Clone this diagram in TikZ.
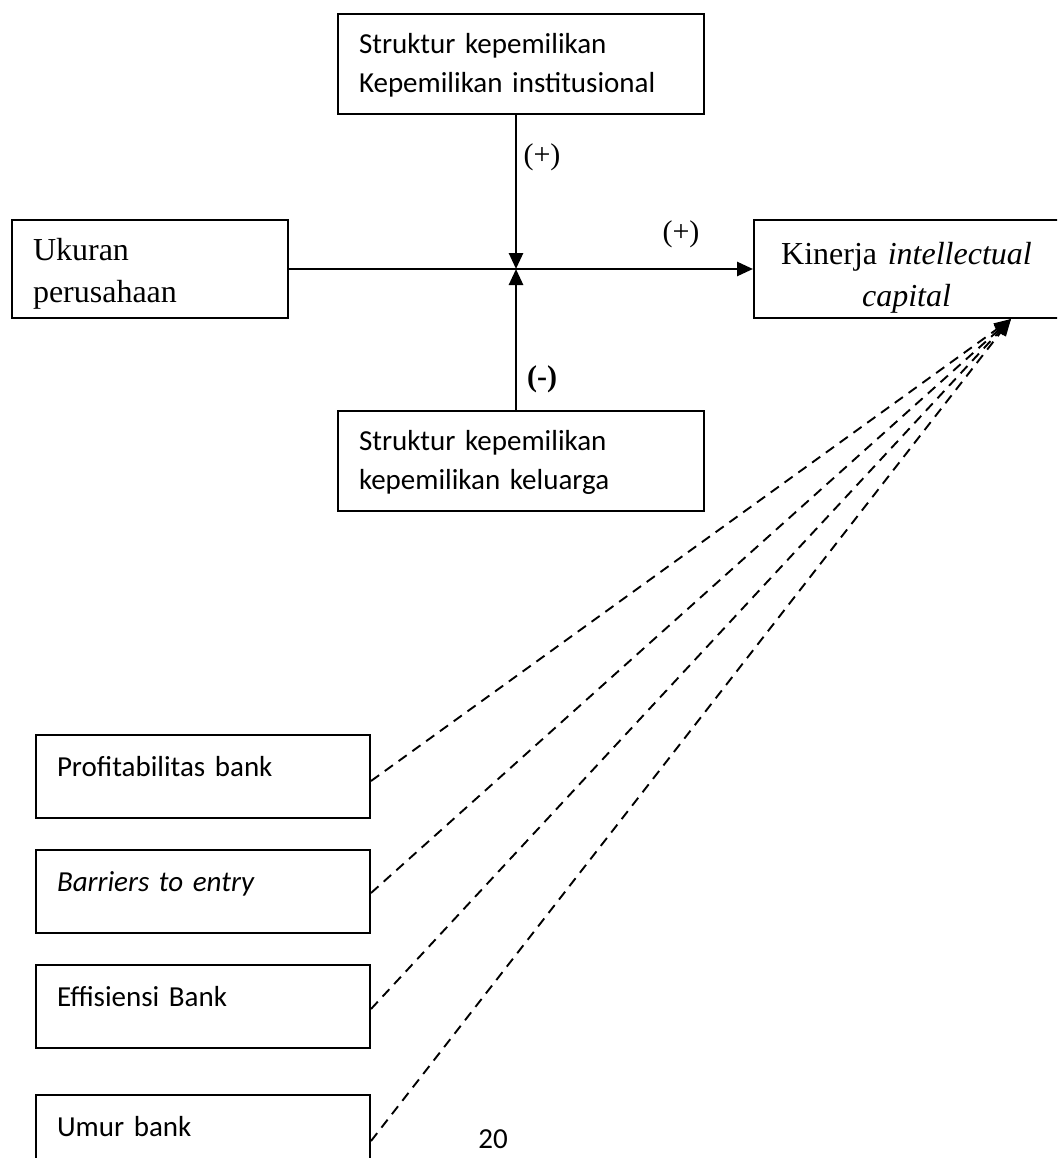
\documentclass[tikz,border=0pt]{standalone}
\usepackage{fontspec}
\setmainfont{Liberation Serif}
\newfontfamily\calfont{Carlito}
\usetikzlibrary{arrows.meta,calc}
\begin{document}
\begin{tikzpicture}[x=1pt,y=-1pt,
  cbox/.style={draw, line width=2pt, inner xsep=21pt, inner ysep=0pt, anchor=north west, align=left,
    font=\calfont\fontsize{29}{39}\selectfont},
  tbox/.style={draw, line width=2pt, inner xsep=21pt, inner ysep=0pt, anchor=north west,
    font=\fontsize{32}{41}\selectfont},
  lab/.style={font=\fontsize{30}{36}\selectfont, inner sep=0pt},
  solidarrow/.style={line width=2.6pt, -{Triangle[length=16pt,width=14pt]}},
  dasharrow/.style={line width=1.9pt, dash pattern=on 10pt off 7pt, -{Triangle[length=17pt,width=13pt]}}
]
\useasboundingbox (0,0) rectangle (1057,1158);
\clip (0,0) rectangle (1057,1158);

% main boxes
\node[cbox, text width=324pt, text height=39.5pt, text depth=60.5pt] (inst) at (337,13)
  {Struktur kepemilikan\\Kepemilikan institusional};
\node[cbox, text width=324pt, text height=39.5pt, text depth=60.5pt] (fam) at (337,410)
  {Struktur kepemilikan\\kepemilikan keluarga};
\node[tbox, align=left, text width=234pt, text height=41pt, text depth=57pt] (u) at (11,219)
  {Ukuran\\perusahaan};
\node[tbox, align=center, text width=263pt, text height=44pt, text depth=54pt,
  font=\fontsize{32}{43}\selectfont] (k) at (753,219)
  {Kinerja \textit{intellectual}\\\textit{capital}};

% control boxes
\node[cbox, text width=292pt, text height=41pt, text depth=42pt] (p1) at (35,734) {Profitabilitas bank};
\node[cbox, text width=292pt, text height=41pt, text depth=42pt] (p2) at (35,849) {\textit{Barriers to entry}};
\node[cbox, text width=292pt, text height=41pt, text depth=42pt] (p3) at (35,964) {Effisiensi Bank};
\node[cbox, text width=292pt, text height=41pt, text depth=42pt] (p4) at (35,1094) {Umur bank};

% junction and arrows
\coordinate (vt) at ([xshift=-5pt]inst.south);
\coordinate (vb) at ([xshift=-5pt]fam.north);
\coordinate (j) at (vt |- u.east);
\draw[solidarrow] (vt) -- (j);
\draw[solidarrow] (vb) -- (j);
\draw[solidarrow] (u.east) -- (k.west);

% labels
\node[lab] (l1) at (542,157) {(+)};
\node[lab] (l2) at (681,234) {(+)};
\node[lab, font=\bfseries\fontsize{30}{36}\selectfont] (l3) at (542,379) {(-)};

% dashed arrows
\coordinate (tip) at ($(k.south)+(104.5,0)$);
\draw[dasharrow] ([yshift=-4.5pt]p1.east) -- (tip);
\draw[dasharrow] ([yshift=-1.5pt]p2.east) -- (tip);
\draw[dasharrow] ([yshift=-2.5pt]p3.east) -- (tip);
\draw[dasharrow] ([yshift=-4.5pt]p4.east) -- (tip);

% page number
\node[font=\calfont\fontsize{29}{35}\selectfont, inner sep=0pt] (pg) at (493,1139) {20};
\end{tikzpicture}
\end{document}
